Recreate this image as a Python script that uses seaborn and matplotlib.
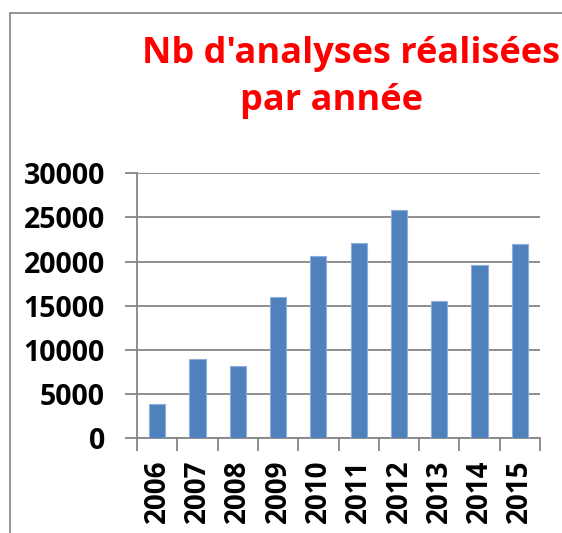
import matplotlib
matplotlib.use("Agg")
import matplotlib.pyplot as plt
import seaborn as sns
import pandas as pd
from matplotlib.patches import Rectangle

years = ["2006", "2007", "2008", "2009", "2010", "2011", "2012", "2013", "2014", "2015"]
values = [3900, 9000, 8150, 15950, 20600, 22100, 25900, 15600, 19600, 22000]
yticks = [0, 5000, 10000, 15000, 20000, 25000, 30000]
title_lines = ["Nb d'analyses réalisées", "par année"]

sns.set_theme(style="white")
plt.rcParams["font.family"] = ["Open Sans", "DejaVu Sans"]

df = pd.DataFrame({"year": years, "n": values})

fig = plt.figure(figsize=(5.62, 5.33), dpi=100)
ax = fig.add_axes([137/562, 1-438.3/533, (540-137)/562, (438.3-173.3)/533])

sns.barplot(data=df, x="year", y="n", color="#4F81BD", saturation=1, width=0.4,
            edgecolor="#8DB0DA", linewidth=0.8, ax=ax, zorder=3)

grid_c = "#868686"
ax.set_ylim(0, 30000)
ax.set_xlim(-0.5, len(years) - 0.5)
ax.set_yticks(yticks)
ax.set_yticklabels([str(v) for v in yticks], fontsize=20.5, fontweight="bold", color="black")
ax.yaxis.grid(True, color=grid_c, linewidth=1.3, zorder=0)
ax.set_axisbelow(True)
ax.set_xlabel("")
ax.set_ylabel("")

# category ticks at boundaries
ax.set_xticks([i for i in range(len(years))])
ax.set_xticklabels(years, rotation=90, fontsize=20, fontweight="bold", color="black")
ax.tick_params(axis="x", length=0, pad=15)
ax.set_xticks([i - 0.5 for i in range(len(years) + 1)], minor=True)
ax.tick_params(axis="x", which="minor", length=9, width=1.3, color=grid_c, direction="out", bottom=True)
ax.tick_params(axis="y", length=9, width=1.3, color=grid_c, direction="out", left=True, pad=14)

for s in ["top", "right"]:
    ax.spines[s].set_visible(False)
for s in ["left", "bottom"]:
    ax.spines[s].set_color(grid_c)
    ax.spines[s].set_linewidth(1.3)

fig.text(351.5/562, 1 - 63/533, title_lines[0], ha="center", va="baseline", color="#FF0000",
         fontsize=26, fontweight="bold")
fig.text(331/562, 1 - 110/533, title_lines[1], ha="center", va="baseline", color="#FF0000",
         fontsize=26, fontweight="bold")

fig.patches.append(Rectangle((10/562, -0.2), 1.5, 1 - 13/533 + 0.2, transform=fig.transFigure,
                             fill=False, edgecolor="#8C8C8C", linewidth=1.3))

fig.savefig("out.png", dpi=100)
